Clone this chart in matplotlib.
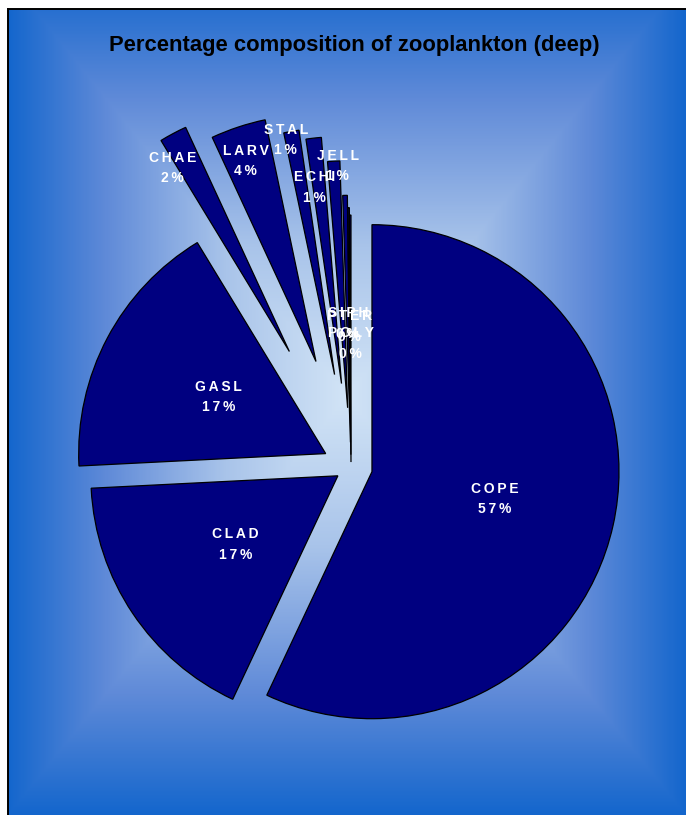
import numpy as np
import matplotlib
matplotlib.use("Agg")
import matplotlib.pyplot as plt
from matplotlib.colors import LinearSegmentedColormap

# Zooplankton groups and their share of the deep sample (%)
groups = ["COPE", "CLAD", "GASL", "CHAE", "LARV", "STAL", "ECHI", "JELL", "SIPH", "PTER", "POLY"]
shares = [57.0, 17.2, 17.1, 1.8, 3.6, 1.0, 1.0, 0.8, 0.3, 0.1, 0.1]
title = "Percentage composition of zooplankton (deep)"

# Per-slice pull-out distance, label distance (in pie radii) and label angle nudge (deg)
explode = [0.087, 0.064, 0.116, 0.53, 0.45, 0.38, 0.34, 0.24, 0.10, 0.05, 0.02]
label_r = [0.51, 0.50, 0.49, 0.88, 0.86, 0.97, 0.80, 0.98, 0.48, 0.52, 0.48]
label_dt = [0.0, 0.0, 0.0, 4.4, 0.9, 1.7, 1.3, -0.9, 0.0, 0.0, 0.0]

W, H = 686, 815
fig = plt.figure(figsize=(W / 100, H / 100), dpi=100, facecolor="white")

# Background panel with a rectangular "from centre" gradient
x0, y0 = 8, 9                 # top-left corner of the panel (px)
bg = fig.add_axes([x0 / W, 0, 1 - x0 / W, 1 - y0 / H])
bx = np.linspace(0, 1, 600)
by = np.linspace(0, 1, 700)
X, Y = np.meshgrid(bx, by)
cx, cy = 0.50, 0.48
t = np.maximum(np.abs(X - cx) / 0.51, np.abs(Y - cy) / 0.53)
t = np.clip(t, 0, 1)
cmap = LinearSegmentedColormap.from_list(
    "panel", [(0.0, "#d2e4f6"), (0.35, "#a9c4ea"), (0.7, "#5f8ad8"), (1.0, "#0f64cc")])
bg.imshow(t, cmap=cmap, vmin=0, vmax=1, aspect="auto", extent=[0, 1, 1, 0],
          interpolation="bilinear")
bg.set_xlim(0, 1)
bg.set_ylim(1, 0)
bg.set_xticks([])
bg.set_yticks([])
for side in ("right", "bottom"):
    bg.spines[side].set_visible(False)
for side in ("top", "left"):
    bg.spines[side].set_linewidth(1.4)
    bg.spines[side].set_color("black")

# Pie axes: centre at (351, 467) px, radius 247 px
R = 247.0
pcx, pcy = 351.0, 467.0
ax = fig.add_axes([0, 0, 1, 1])
ax.patch.set_alpha(0)
wedges, _ = ax.pie(shares, explode=explode, startangle=90, counterclock=False,
                   colors=["#000080"] * len(shares),
                   wedgeprops=dict(edgecolor="black", linewidth=0.9),
                   radius=1.0)
ax.set_xlim(-pcx / R, (W - pcx) / R)
ax.set_ylim(-(H - pcy) / R, pcy / R)
ax.set_aspect("auto")
ax.axis("off")

def spaced(s):
    return "\u2009".join(s)

for w, name, val, lr, dt in zip(wedges, groups, shares, label_r, label_dt):
    mid = np.deg2rad((w.theta1 + w.theta2) / 2 + dt)
    wx, wy = w.center
    tx = wx + lr * np.cos(mid)
    ty = wy + lr * np.sin(mid)
    txt = f"{spaced(name)}\n{spaced(str(int(round(val))) + '%')}"
    ax.text(tx, ty, txt, ha="center", va="center", color="white",
            fontsize=10, fontweight="bold", family=["Liberation Sans", "DejaVu Sans"],
            linespacing=1.6)

fig.text(354 / W, 1 - 45 / H, title, ha="center", va="center", fontsize=15.8,
         fontweight="bold", color="black", family=["Liberation Sans", "DejaVu Sans"])

fig.savefig("out.png", dpi=100, facecolor="white")
